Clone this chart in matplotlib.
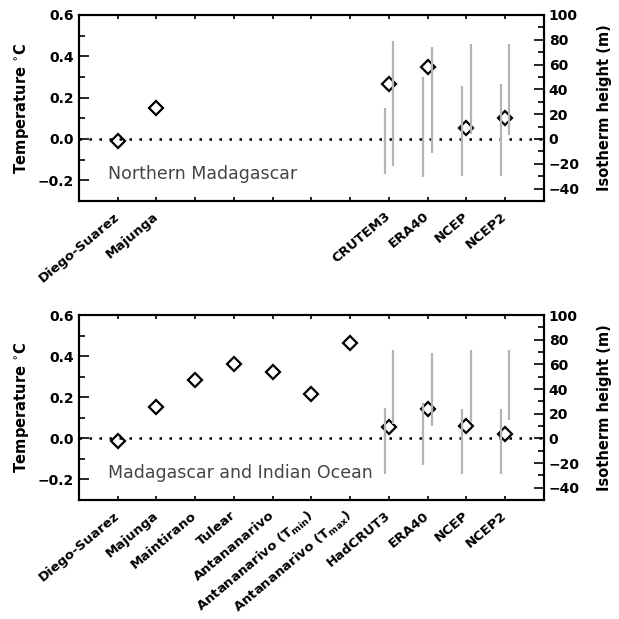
import numpy as np
import matplotlib
matplotlib.use('Agg')
import matplotlib.pyplot as plt
from matplotlib.ticker import MultipleLocator

plt.rcParams['font.family'] = ['DejaVu Sans']
plt.rcParams['font.weight'] = 'bold'
plt.rcParams['axes.labelweight'] = 'bold'
plt.rcParams['mathtext.fontset'] = 'custom'
plt.rcParams['mathtext.rm'] = 'DejaVu Sans:bold'
plt.rcParams['mathtext.it'] = 'DejaVu Sans:bold'

# ---- top panel: Northern Madagascar ----
north_labels = ['Diego-Suarez', 'Majunga', '', '', '', '', '', 'CRUTEM3', 'ERA40', 'NCEP', 'NCEP2']
north_temp = [-0.012, 0.152, np.nan, np.nan, np.nan, np.nan, np.nan, 0.265, 0.346, 0.053, 0.100]
north_left_lo = [-28, -31, -30, -30]
north_left_hi = [25, 50, 43, 44]
north_right_lo = [-22, -11, 4, 3]
north_right_hi = [79, 74, 77, 77]

# ---- bottom panel: Madagascar and Indian Ocean ----
south_labels = ['Diego-Suarez', 'Majunga', 'Maintirano', 'Tulear', 'Antananarivo',
                r'Antananarivo (T$_{\rm min}$)', r'Antananarivo (T$_{\rm max}$)',
                'HadCRUT3', 'ERA40', 'NCEP', 'NCEP2']
south_temp = [-0.013, 0.153, 0.284, 0.364, 0.325, 0.218, 0.463, 0.054, 0.141, 0.059, 0.021]
south_left_lo = [-29, -22, -29, -29]
south_left_hi = [25, 29, 24, 24]
south_right_lo = [12, 10, 13, 15]
south_right_hi = [72, 69, 72, 72]

M_PER_DEG = 100 / 0.6
bar_col = '#b4b4b4'


def panel(rect, labels, temp, llo, lhi, rlo, rhi, title):
    ax = fig.add_axes(rect)
    x = np.arange(1, len(labels) + 1)
    ax.set_xlim(0, 12)
    ax.set_ylim(-0.3, 0.6)
    ax.axhline(0, color='k', ls=(0, (1, 3)), lw=1.8, zorder=1)
    ax.plot(x, temp, 'D', ms=7.5, mfc='none', mec='k', mew=1.6, zorder=2)

    ax2 = ax.twinx()
    ax2.set_ylim(-0.3 * M_PER_DEG, 0.6 * M_PER_DEG)
    xd = x[-4:]
    ax2.vlines(xd - 0.11, llo, lhi, color=bar_col, lw=1.6, zorder=3)
    ax2.vlines(xd + 0.11, rlo, rhi, color=bar_col, lw=1.6, zorder=3)

    ax.set_xticks(x)
    ax.set_xticklabels(labels, rotation=40, ha='right', va='center',
                       rotation_mode='anchor', fontsize=9.5)
    ax.tick_params(axis='x', direction='in', length=3, width=1.2, top=True, pad=10)
    ax.yaxis.set_major_locator(MultipleLocator(0.2))
    ax.yaxis.set_minor_locator(MultipleLocator(0.1))
    ax.yaxis.set_major_formatter(lambda v, p: ('%.1f' % v).replace('-', '\u2212'))
    ax.tick_params(axis='y', which='major', direction='in', length=7, width=1.2, labelsize=10)
    ax.tick_params(axis='y', which='minor', direction='in', length=4, width=1.2)
    ax.set_ylabel(r'Temperature $^{\circ}$C', fontsize=10.5, labelpad=5)

    ax2.yaxis.set_major_locator(MultipleLocator(20))
    ax2.yaxis.set_minor_locator(MultipleLocator(10))
    ax2.yaxis.set_major_formatter(lambda v, p: ('%d' % v).replace('-', '\u2212'))
    ax2.tick_params(axis='y', which='major', direction='in', length=7, width=1.2, labelsize=10)
    ax2.tick_params(axis='y', which='minor', direction='in', length=4, width=1.2)
    ax2.set_ylabel('Isotherm height (m)', fontsize=10.5, labelpad=12)

    for a in (ax, ax2):
        for s in a.spines.values():
            s.set_linewidth(1.5)
    ax.text(0.75, -0.17, title, fontsize=12.5, fontweight='normal', color='#444444',
            va='center', ha='left')
    return ax


fig = plt.figure(figsize=(6.19, 6.19), dpi=100)
panel([0.1276, 0.6753, 0.7512, 0.3005], north_labels, north_temp,
      north_left_lo, north_left_hi, north_right_lo, north_right_hi, 'Northern Madagascar')
panel([0.1276, 0.1922, 0.7512, 0.2989], south_labels, south_temp,
      south_left_lo, south_left_hi, south_right_lo, south_right_hi, 'Madagascar and Indian Ocean')

fig.savefig('out.png', dpi=100)
